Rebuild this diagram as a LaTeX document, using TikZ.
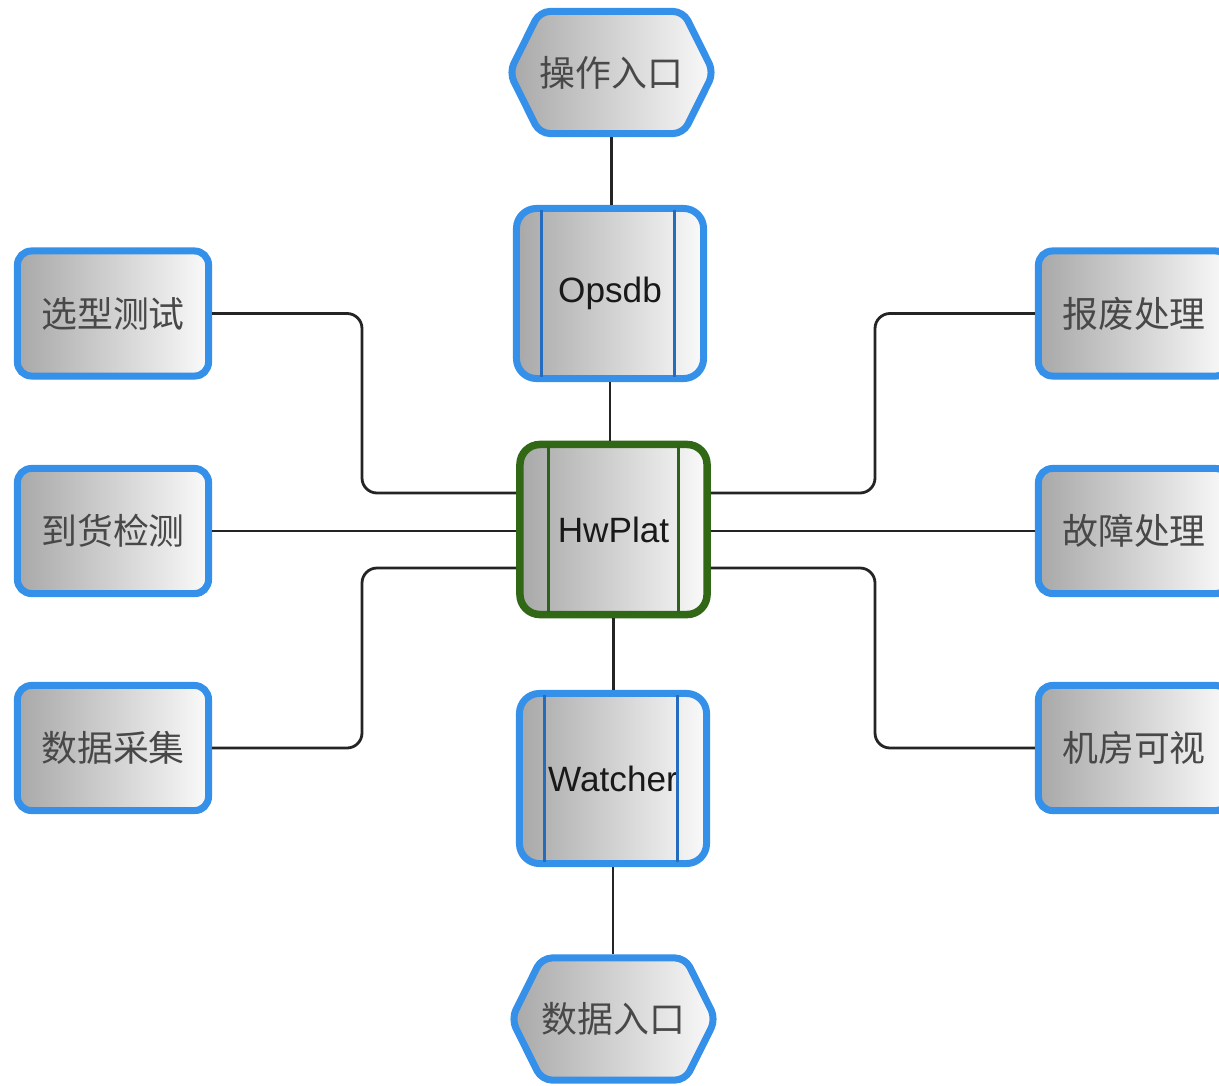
\documentclass[tikz,border=0pt]{standalone}
\usepackage{fontspec}
\setmainfont{Liberation Sans}
\newfontfamily\cjk{Noto Sans CJK SC}
\usetikzlibrary{shapes.symbols,calc,shadows}
\definecolor{boxblue}{RGB}{52,144,232}
\definecolor{lineblue}{RGB}{38,108,190}
\definecolor{hwgreen}{RGB}{48,104,22}
\definecolor{linegreen}{RGB}{46,98,26}
\definecolor{fillL}{RGB}{168,168,168}
\definecolor{fillR}{RGB}{250,250,250}
\definecolor{cjkgray}{RGB}{72,72,72}
\definecolor{conncol}{RGB}{36,36,36}
\begin{document}
\begin{tikzpicture}[x=0.01cm,y=-0.01cm,
  grad/.style={shading=axis,left color=fillL,right color=fillR},
  sidebox/.style={grad,rectangle,rounded corners=0.14cm,draw=boxblue,line width=0.07cm,
    minimum width=1.91cm,minimum height=1.25cm,
    drop shadow={shadow xshift=0.02cm,shadow yshift=-0.03cm,fill=boxblue,opacity=1},
    font=\cjk\fontsize{10.2}{12}\selectfont,text=cjkgray},
  corebox/.style={grad,rectangle,rounded corners=0.2cm,draw=boxblue,line width=0.07cm,
    minimum width=1.87cm,minimum height=1.70cm,
    drop shadow={shadow xshift=0.015cm,shadow yshift=-0.02cm,fill=boxblue,opacity=1},
    font=\fontsize{10}{12}\selectfont,text=black!90},
  hubbox/.style={corebox,draw=hwgreen,line width=0.075cm,drop shadow={opacity=0}},
  hexbox/.style={grad,signal,signal to=west and east,signal pointer angle=127,
    rounded corners=0.1cm,draw=boxblue,line width=0.07cm,
    minimum width=1.90cm,minimum height=1.22cm,inner sep=0pt,
    font=\cjk\fontsize{10.2}{12}\selectfont,text=cjkgray},
  innerline/.style={draw=lineblue,line width=0.03cm},
  conn/.style={draw=conncol,line width=0.028cm,rounded corners=0.15cm}]
\useasboundingbox (0,0) rectangle (1219,1085);
\clip (0,0) rectangle (1219,1085);

% central column
\node[hexbox]  (inop)  at (611.5,72.5) {操作入口};
\node[corebox] (ops)   at (610,293.5) {Opsdb};
\node[hubbox]  (hw)    at (613.5,529.5) {HwPlat};
\node[corebox] (watch) at (613,778.5) {Watcher};
\node[hexbox]  (indata) at (613.5,1019) {数据入口};

% side boxes
\node[sidebox] (sel)  at (113,313.5) {选型测试};
\node[sidebox] (arr)  at (113,531) {到货检测};
\node[sidebox] (col)  at (113,748) {数据采集};
\node[sidebox] (scr)  at (1134,313.5) {报废处理};
\node[sidebox] (flt)  at (1134,531) {故障处理};
\node[sidebox] (room) at (1134,748) {机房可视};

% inner bars of the process boxes
\foreach \n in {ops,watch}{
  \draw[innerline] ($(\n.north west)+(29,5)$) -- ($(\n.south west)+(29,-5)$);
  \draw[innerline] ($(\n.north east)+(-33,5)$) -- ($(\n.south east)+(-33,-5)$);
}
\draw[innerline,draw=linegreen] ($(hw.north west)+(32,5)$) -- ($(hw.south west)+(32,-5)$);
\draw[innerline,draw=linegreen] ($(hw.north east)+(-32,5)$) -- ($(hw.south east)+(-32,-5)$);

% vertical links
\draw[conn] (inop.south) -- (inop.south |- ops.north);
\draw[conn] (ops.south) -- (ops.south |- hw.north);
\draw[conn] (hw.south) -- (hw.south |- watch.north);
\draw[conn] (watch.south) -- (watch.south |- indata.north);

% horizontal links
\coordinate (xl) at (362,0);
\coordinate (xr) at (875,0);
\coordinate (hwL1) at ($(hw.west)+(0,-36.5)$);
\coordinate (hwL3) at ($(hw.west)+(0,38.5)$);
\coordinate (hwR1) at ($(hw.east)+(0,-36.5)$);
\coordinate (hwR3) at ($(hw.east)+(0,38.5)$);
\draw[conn] (sel.east) -- (sel.east -| xl) -- (hwL1 -| xl) -- (hwL1);
\draw[conn] (arr.east) -- (arr.east -| hw.west);
\draw[conn] (col.east) -- (col.east -| xl) -- (hwL3 -| xl) -- (hwL3);
\draw[conn] (hwR1) -- (hwR1 -| xr) -- (scr.west -| xr) -- (scr.west);
\draw[conn] (hw.east |- flt.west) -- (flt.west);
\draw[conn] (hwR3) -- (hwR3 -| xr) -- (room.west -| xr) -- (room.west);
\end{tikzpicture}
\end{document}
